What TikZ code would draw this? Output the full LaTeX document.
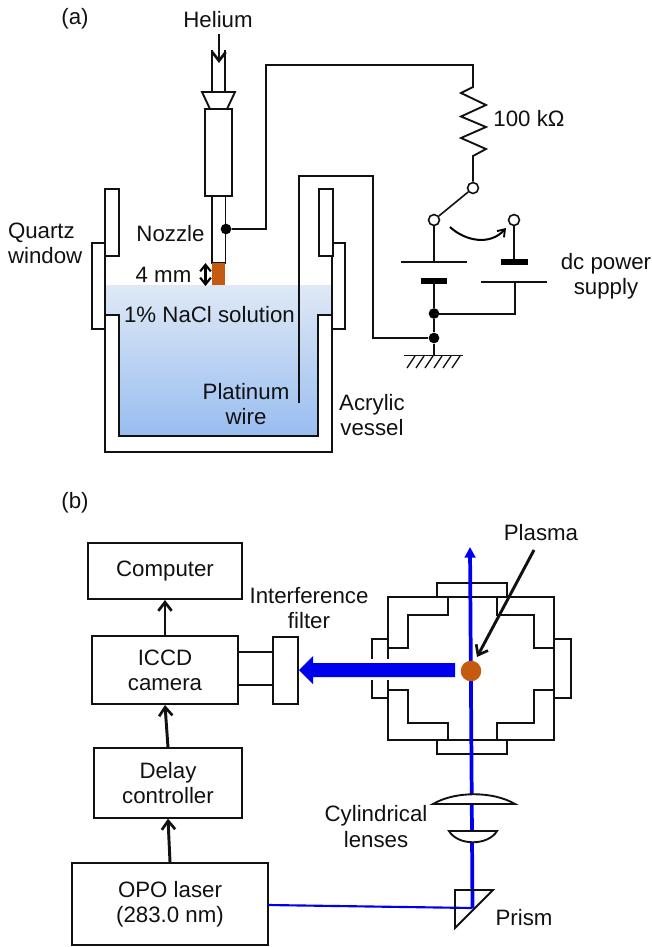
\documentclass[tikz,border=0pt]{standalone}
\usepackage{fontspec}
\setmainfont{Liberation Sans}
\usetikzlibrary{arrows.meta}
\definecolor{ink}{HTML}{111111}
\definecolor{beam}{HTML}{0000F0}
\definecolor{rust}{HTML}{C55A11}
\definecolor{waterT}{HTML}{DFE9F6}
\definecolor{waterB}{HTML}{98BDF0}
\tikzset{
 lbl/.style={inner sep=0pt,outer sep=0pt,align=center,text=ink,font=\fontsize{16.7}{19}\selectfont},
 box/.style={draw=ink,line width=1.5pt,inner sep=0pt,align=center,text=ink,font=\fontsize{16.7}{19}\selectfont},
 wire/.style={draw=ink,line width=1.4pt,line join=miter},
 part/.style={draw=ink,line width=1.4pt,fill=white,line join=miter},
 flow/.style={draw=ink,line width=2.2pt,-{Straight Barb[length=6.5pt,width=10pt,line width=2pt]}},
 jdot/.style={circle,fill=black,inner sep=0pt,minimum size=8pt},
 term/.style={circle,draw=ink,fill=white,line width=1.2pt,inner sep=0pt,minimum size=8.2pt},
 plate/.style={draw=black,line width=4.5pt},
 ray/.style={draw=beam,line width=2.8pt},
}
\begin{document}
\begin{tikzpicture}[x=0.75pt,y=-0.75pt]
\useasboundingbox (0,0) rectangle (652,947);
% ---------- (a)
\fill[top color=waterT,bottom color=waterB]
  (105,285) -- (332,285) -- (332,315) -- (318,315) -- (318,436) -- (119,436) -- (119,315) -- (105,315) -- cycle;
% vessel
\draw[wire] (105,243) -- (105,452) -- (332,452) -- (332,243);
\draw[wire] (105,315) -- (119,315) -- (119,436) -- (318,436) -- (318,315) -- (332,315);
\draw[wire] (105,243) -- (92,243) -- (92,329) -- (105,329);
\draw[wire] (333,243) -- (345,243) -- (345,329) -- (332,329);
\draw[part] (105,189) rectangle (119,256);
\draw[part] (319,189) rectangle (333,256);
% nozzle
\draw[wire] (212,50) -- (212,92) (225,50) -- (225,92);
\draw[part] (202,92) -- (235,92) -- (227,109) -- (210,109) -- cycle;
\draw[part] (205,109) rectangle (232,196);
\draw[part] (212,196) rectangle (225.5,263);
\fill[rust] (212,263) rectangle (225,285);
\coordinate (heIn) at (219,34);
\coordinate (heOut) at (219,63);
\draw[flow,line width=1.8pt] (heIn) -- (heOut);
\coordinate (gapT) at (205.5,263);
\coordinate (gapB) at (205.5,286);
\draw[draw=black,line width=1.8pt,{Straight Barb[length=5pt,width=8pt,line width=1.6pt]}-{Straight Barb[length=5pt,width=8pt,line width=1.6pt]}] (gapT) -- (gapB);
% circuit
\node[jdot] (dN) at (226,229) {};
\node[term] (sT) at (473,188) {};
\node[term] (sL) at (434,220) {};
\node[term] (sR) at (514,220) {};
\node[jdot] (dA) at (434,313.5) {};
\node[jdot] (dB) at (434,338) {};
\coordinate (gnd) at (434,355.5);
\draw[wire] (dN) -- (266,229) -- (266,65) -- (473,65) -- (473,87)
  -- (461,93) -- (486,105) -- (461,116.5) -- (486,127) -- (461,138) -- (486,149) -- (473,156) -- (sT);
\draw[wire,line width=1.2pt] (sT) -- (sL);
\draw[wire] (299,403) -- (299,176) -- (373,176) -- (373,338) -- (dB);
\draw[wire] (sL) -- (434,262);
\draw[wire] (401,262) -- (467,262);
\draw[plate] (421,281) -- (447,281);
\draw[wire,line width=2pt] (434,281) -- (dA);
\draw[wire,line width=2pt] (dA) -- (dB);
\draw[wire,line width=2pt] (dB) -- (gnd);
\draw[wire] (sR) -- (514,262);
\draw[plate] (501,262) -- (528,262);
\draw[wire] (481,282) -- (547,282);
\draw[wire] (515,282) -- (515,314) -- (434,314);
\draw[wire] (404,355.5) -- (463,355.5);
\foreach \h in {415,424,433,442,451,460}
  \draw[draw=ink,line width=1pt] (\h,356) -- (\h-8,368);
\draw[draw=black,line width=1.5pt,-{Straight Barb[length=5pt,width=7pt,line width=1.4pt]}] (450,227) .. controls (465,241) and (490,246) .. (506,228);
% labels (a)
\node[lbl] (la) at (75,19) {(a)};
\node[lbl] (lhe) at (218,20) {Helium};
\node[lbl] (lr) at (529,119) {100 kΩ};
\node[lbl] (lnz) at (170.5,234) {Nozzle};
\node[lbl] (l4) at (163.5,275) {4 mm};
\node[lbl,align=left,anchor=west] (lq) at (8,243) {Quartz\\window};
\node[lbl] (lna) at (209.5,315) {1\% NaCl solution};
\node[lbl] (lpt) at (246,404) {Platinum\\wire};
\node[lbl] (lac) at (372,415) {Acrylic\\vessel};
\node[lbl] (ldc) at (606,276.5) {dc power\\supply};
% ---------- (b)
\node[lbl] (lb) at (75,503) {(b)};
\node[box,minimum width=115.5pt,minimum height=42pt] (comp) at (165,571) {Computer};
\node[box,minimum width=109.5pt,minimum height=51pt] (iccd) at (165,670) {ICCD\\camera};
\node[box,minimum width=111pt,minimum height=52pt] (delay) at (168,783) {Delay\\controller};
\node[box,minimum width=147pt,minimum height=61.5pt] (opo) at (170,904) {OPO laser\\(283.0 nm)};
\node[part,inner sep=0pt,minimum width=18.75pt,minimum height=50.25pt] (filt) at (285.5,670.5) {};
\draw[wire] (iccd.east |- 0,652) -- (filt.west |- 0,652);
\draw[wire] (iccd.east |- 0,685) -- (filt.west |- 0,685);
\draw[flow] (iccd.north) -- (comp.south);
\draw[flow] (delay.north) -- (iccd.south);
\draw[flow] (opo.north) -- (delay.south);
\node[lbl] (lif) at (309,608) {Interference\\filter};
% chamber
\draw[wire] (388,597) rectangle (554,740);
\draw[part] (437,583) rectangle (507,597);
\draw[part] (437,740) rectangle (507,754);
\draw[part] (372,639) rectangle (388,698);
\draw[part] (554,639) rectangle (571,698);
\draw[wire] (448,597) -- (448,615) -- (408,615) -- (408,648) -- (388,648);
\draw[wire] (497,597) -- (497,615) -- (534,615) -- (534,648) -- (554,648);
\draw[wire] (388,690) -- (408,690) -- (408,723) -- (448,723) -- (448,740);
\draw[wire] (554,690) -- (534,690) -- (534,723) -- (497,723) -- (497,740);
% beams
\coordinate (pr) at (472.5,908);
\coordinate (tip) at (470,547);
\node[inner sep=0pt,minimum size=0pt] (opoOut) at (268,905) {};
\draw[draw=beam,line width=1.6pt] (opoOut) -- (pr);
\draw[ray,-{Triangle[length=8pt,width=8pt]}] (pr) -- (tip);
\fill[white] (369,659) rectangle (392,680);
\fill[beam] (455,663) -- (313,663) -- (313,656) -- (299,670) -- (313,684) -- (313,677) -- (455,677) -- cycle;
\node[circle,fill=rust,inner sep=0pt,minimum size=15.4pt] (plasma) at (471,671) {};
\node[lbl] (lpl) at (541,533) {Plasma};
\coordinate (plF) at (534,550);
\coordinate (plT) at (477,657);
\draw[flow] (plF) -- (plT);
% optics
\draw[part] (433,804) .. controls (455,791) and (493,791) .. (515,804) -- cycle;
\draw[part] (449,831) .. controls (458,846) and (488,846) .. (497,831) -- cycle;
\draw[wire] (455,890) -- (493,890) -- (455,928) -- cycle;
\node[lbl] (lcy) at (376,826.5) {Cylindrical\\lenses};
\node[lbl] (lpr) at (524,918) {Prism};
\end{tikzpicture}
\end{document}
